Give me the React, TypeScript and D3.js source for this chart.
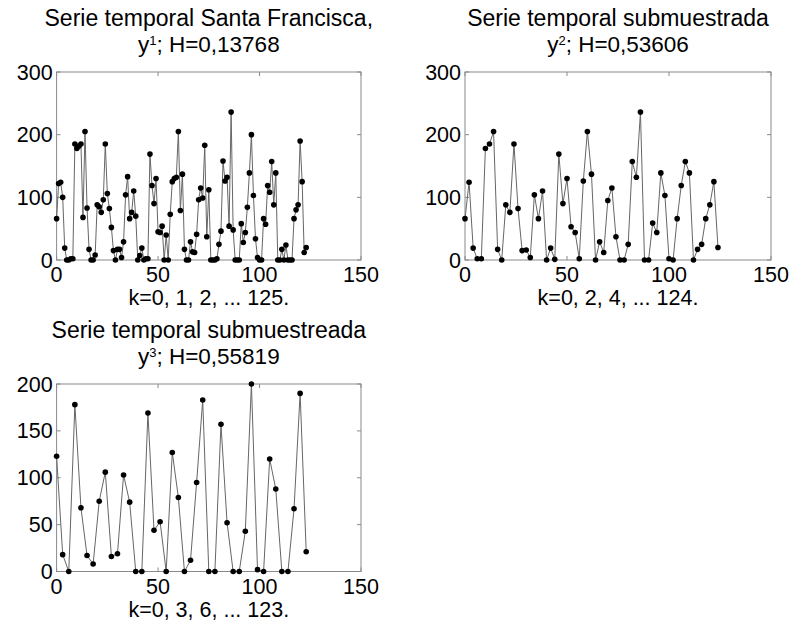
import React from "react";
import * as d3 from "d3";

// ---- data ----
const y1: number[] = [
  66, 122, 124, 100, 19, 0, 0, 2, 2, 185, 178, 182, 185, 68, 205, 83, 17, 0, 0, 8,
  88, 85, 76, 96, 185, 106, 82, 52, 15, 0, 17, 17, 4, 29, 104, 133, 66, 76, 110, 70,
  0, 7, 19, 0, 2, 2, 169, 119, 90, 130, 45, 44, 54, 0, 40, 0, 73, 125, 130, 132,
  205, 79, 137, 17, 0, 0, 29, 13, 12, 41, 96, 115, 99, 183, 37, 112, 0, 0, 0, 2,
  25, 46, 158, 126, 132, 54, 236, 48, 0, 0, 0, 58, 28, 44, 84, 139, 200, 103, 34, 4,
  0, 0, 66, 57, 119, 108, 157, 88, 139, 0, 0, 17, 0, 24, 0, 0, 0, 66, 80, 88,
  190, 125, 12, 20,
];
const y1Step = 1;

const y2: number[] = [
  66, 124, 19, 2, 2, 178, 185, 205, 17, 0, 88, 76, 185, 82, 15, 16, 4, 104, 66, 110,
  0, 19, 1, 169, 90, 130, 53, 44, 2, 126, 205, 137, 0, 29, 12, 95, 115, 37, 0, 0,
  25, 157, 132, 236, 0, 0, 59, 44, 139, 103, 2, 0, 66, 119, 157, 139, 0, 17, 25, 66,
  88, 125, 20,
];
const y2Step = 2;

const y3: number[] = [
  123, 18, 0, 178, 68, 17, 8, 75, 106, 16, 19, 103, 74, 0, 0, 169, 44, 53, 0, 127,
  79, 0, 12, 95, 183, 0, 0, 157, 52, 0, 0, 43, 200, 2, 0, 120, 88, 0, 0, 67,
  190, 21,
];
const y3Step = 3;

const xTicks = [0, 50, 100, 150];
const yTicksA = [0, 100, 200, 300];
const yTicksB = [0, 50, 100, 150, 200];

const titles1 = ["Serie temporal Santa Francisca,", "1", "; H=0,13768"];
const titles2 = ["Serie temporal submuestrada", "2", "; H=0,53606"];
const titles3 = ["Serie temporal submuestreada", "3", "; H=0,55819"];
const xlabel1 = "k=0, 1, 2, ... 125.";
const xlabel2 = "k=0, 2, 4, ... 124.";
const xlabel3 = "k=0, 3, 6, ... 123.";

const FONT = "'Liberation Sans', Arial, Helvetica, sans-serif";
const FS = 21.5;
const TFS = 22.5;

type PanelProps = {
  values: number[];
  step: number;
  left: number;
  right: number;
  top: number;
  bottom: number;
  yMax: number;
  yTicks: number[];
  title: string[];
  xlabel: string;
};

function Panel({ values, step, left, right, top, bottom, yMax, yTicks, title, xlabel }: PanelProps) {
  const x = d3.scaleLinear().domain([0, 150]).range([left, right]);
  const y = d3.scaleLinear().domain([0, yMax]).range([bottom, top]);
  const pts = values.map((v, i) => [i * step, v] as [number, number]);
  const line = d3
    .line<[number, number]>()
    .x((d) => x(d[0]))
    .y((d) => y(d[1]));
  const cx = (left + right) / 2;
  const tl = 4;
  const axisColor = "#8a8a8a";
  return (
    <g fontFamily={FONT} fontSize={FS} fill="#000">
      <text x={cx} y={top - 46} textAnchor="middle" fontSize={23}>{title[0]}</text>
      <text x={cx} y={top - 20} textAnchor="middle" fontSize={TFS}>
        y<tspan fontSize={13} dy={-7}>{title[1]}</tspan>
        <tspan dy={7}>{title[2]}</tspan>
      </text>
      <rect x={left} y={top} width={right - left} height={bottom - top} fill="none" stroke={axisColor} strokeWidth={1} />
      {xTicks.map((t) => (
        <g key={"xt" + t}>
          <line x1={x(t)} x2={x(t)} y1={bottom} y2={bottom - tl} stroke={axisColor} />
          <line x1={x(t)} x2={x(t)} y1={top} y2={top + tl} stroke={axisColor} />
          <text x={x(t)} y={bottom + 22} textAnchor="middle">{t}</text>
        </g>
      ))}
      {yTicks.map((t) => (
        <g key={"yt" + t}>
          <line x1={left} x2={left + tl} y1={y(t)} y2={y(t)} stroke={axisColor} />
          <line x1={right} x2={right - tl} y1={y(t)} y2={y(t)} stroke={axisColor} />
          <text x={left - 4} y={y(t) + 7.5} textAnchor="end">{t}</text>
        </g>
      ))}
      <text x={cx} y={bottom + 45} textAnchor="middle">{xlabel}</text>
      <path d={line(pts) || ""} fill="none" stroke="#666" strokeWidth={1} />
      {pts.map((d, i) => (
        <circle key={i} cx={x(d[0])} cy={y(d[1])} r={2.8} fill="#000" />
      ))}
    </g>
  );
}

export default function App() {
  return (
    <svg
      width={793}
      height={629}
      style={{ position: "absolute", left: 0, top: 0, background: "#fff" }}
    >
      <rect width={793} height={629} fill="#fff" />
      <Panel values={y1} step={y1Step} left={56.6} right={361} top={72} bottom={260} yMax={300} yTicks={yTicksA} title={titles1} xlabel={xlabel1} />
      <Panel values={y2} step={y2Step} left={465} right={771} top={72} bottom={260} yMax={300} yTicks={yTicksA} title={titles2} xlabel={xlabel2} />
      <Panel values={y3} step={y3Step} left={56.6} right={361} top={384} bottom={571.5} yMax={200} yTicks={yTicksB} title={titles3} xlabel={xlabel3} />
    </svg>
  );
}
